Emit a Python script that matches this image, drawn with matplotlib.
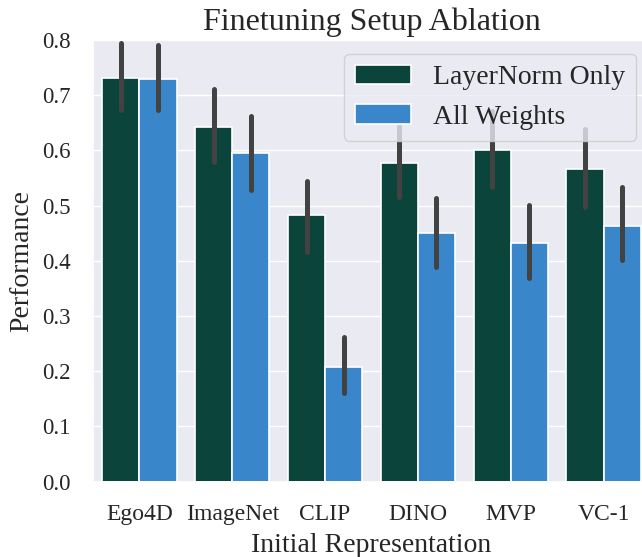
import numpy as np
import matplotlib
matplotlib.use("Agg")
import matplotlib.pyplot as plt
import seaborn as sns

# values
models = ["Ego4D", "ImageNet", "CLIP", "DINO", "MVP", "VC-1"]
ln_mean = [0.731, 0.642, 0.482, 0.578, 0.601, 0.567]
ln_lo = [0.673, 0.579, 0.416, 0.515, 0.534, 0.498]
ln_hi = [0.794, 0.711, 0.545, 0.644, 0.672, 0.638]
aw_mean = [0.729, 0.595, 0.208, 0.450, 0.432, 0.463]
aw_lo = [0.673, 0.529, 0.160, 0.389, 0.368, 0.401]
aw_hi = [0.791, 0.663, 0.261, 0.513, 0.501, 0.534]
series_names = ["LayerNorm Only", "All Weights"]
colors = ["#0b443a", "#3a86cb"]

sns.set_theme(style="darkgrid")
plt.rcParams["font.family"] = ["Liberation Serif", "DejaVu Serif"]

fig = plt.figure(figsize=(6.42, 5.57), dpi=100)
W, H = 642, 557
ax = fig.add_axes([93 / W, (H - 481.5) / H, (650 - 93) / W, (481.5 - 40) / H])

x = np.arange(len(models))
bw = 0.4
for k, (mean, lo, hi) in enumerate([(ln_mean, ln_lo, ln_hi), (aw_mean, aw_lo, aw_hi)]):
    pos = x + (k - 0.5) * bw
    ax.bar(pos, mean, width=bw, color=colors[k], edgecolor="white",
           linewidth=1.2, label=series_names[k], zorder=2)
    mean = np.array(mean)
    err = [mean - np.array(lo), np.array(hi) - mean]
    eb = ax.errorbar(pos, mean, yerr=err, fmt="none", ecolor="#424242",
                     elinewidth=3.6, capsize=0, zorder=3)
    for lc in eb[2]:
        lc.set_capstyle("round")

ax.set_xlim(-0.5, len(models) - 0.5)
ax.set_ylim(0, 0.8)
ax.set_yticks(np.arange(0, 0.81, 0.1))
ax.set_yticklabels([f"{v:.1f}" for v in np.arange(0, 0.81, 0.1)])
ax.set_xticks(x)
ax.set_xticklabels(models)
ax.tick_params(axis="x", labelsize=17, pad=10)
ax.tick_params(axis="y", labelsize=16.5, pad=10)
ax.set_xlabel("Initial Representation", fontsize=20, labelpad=6)
ax.set_ylabel("Performance", fontsize=20, labelpad=6)
ax.set_title("Finetuning Setup Ablation", fontsize=23, pad=7)
ax.grid(axis="x", visible=False)

ax.legend(loc="upper right", fontsize=20)

fig.savefig("out.png", dpi=100)
